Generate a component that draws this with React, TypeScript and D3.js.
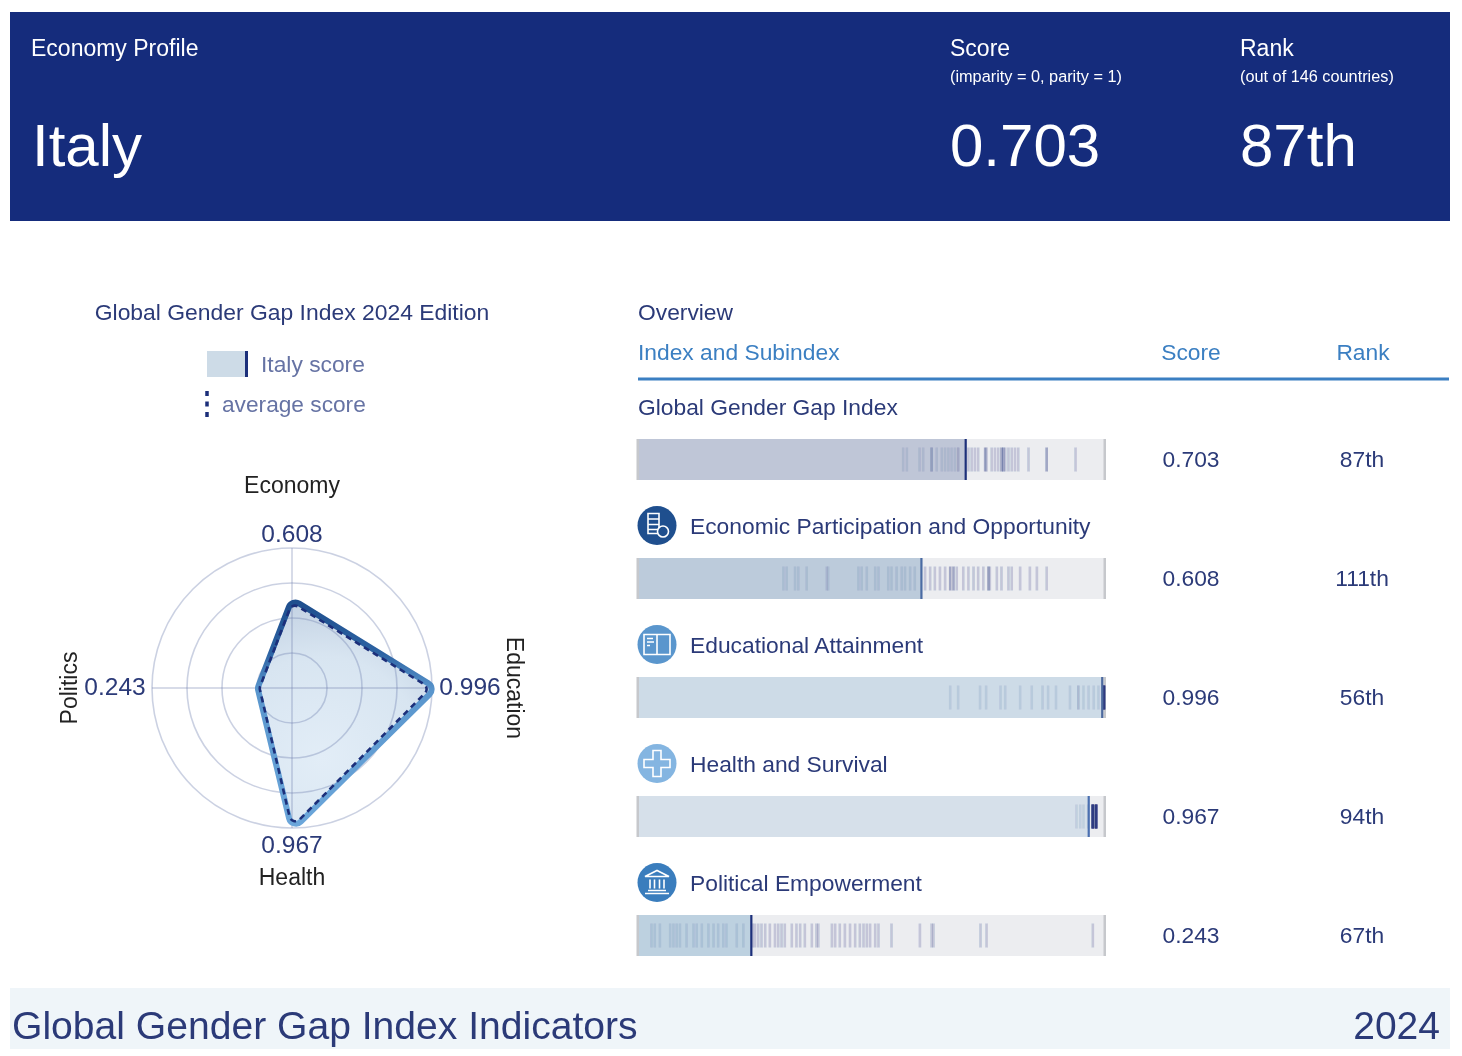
import React from "react";
import * as d3 from "d3";

const rowLabels = [
  "Global Gender Gap Index",
  "Economic Participation and Opportunity",
  "Educational Attainment",
  "Health and Survival",
  "Political Empowerment",
];
const rowScores = [0.703, 0.608, 0.996, 0.967, 0.243];
const rowRanks = ["87th", "111th", "56th", "94th", "67th"];

const globalStrip = [
  0.569, 0.577, 0.604, 0.612, 0.63, 0.63, 0.63, 0.641, 0.652, 0.659, 0.666, 0.673, 0.68, 0.687, 0.687, 0.709, 0.716,
  0.723, 0.73, 0.745, 0.745, 0.748, 0.759, 0.766, 0.773, 0.78, 0.78, 0.784, 0.784, 0.788, 0.795, 0.802, 0.809,
  0.816, 0.838, 0.877, 0.877, 0.939,
];
const economyStrip = [
  0.312, 0.319, 0.337, 0.344, 0.362, 0.405, 0.408, 0.473, 0.48, 0.491, 0.509, 0.516, 0.537, 0.544, 0.555, 0.566,
  0.573, 0.584, 0.594, 0.616, 0.627, 0.637, 0.648, 0.659, 0.67, 0.67, 0.677, 0.677, 0.684, 0.698, 0.709, 0.72,
  0.73, 0.741, 0.752, 0.752, 0.755, 0.77, 0.78, 0.795, 0.802, 0.82, 0.841, 0.856, 0.877,
];
const educationStrip = [
  0.67, 0.687, 0.734, 0.747, 0.778, 0.788, 0.82, 0.845, 0.868, 0.88, 0.897, 0.927, 0.945, 0.945, 0.956, 0.967,
  0.978, 0.988, 0.999, 0.999, 0.999, 1, 1, 1, 1, 1, 1, 1, 1,
];
const healthStrip = [
  0.941, 0.949, 0.956, 0.966, 0.976, 0.976, 0.976, 0.976, 0.976, 0.976, 0.976, 0.976, 0.976, 0.976, 0.976, 0.976,
  0.983, 0.983, 0.983, 0.983, 0.983, 0.983, 0.983, 0.983, 0.983, 0.983, 0.983, 0.983,
];
const politicsStrip = [
  0.029, 0.036, 0.047, 0.069, 0.076, 0.083, 0.09, 0.104, 0.119, 0.126, 0.137, 0.151, 0.162, 0.172, 0.183, 0.19,
  0.212, 0.226, 0.246, 0.251, 0.258, 0.265, 0.273, 0.283, 0.294, 0.301, 0.308, 0.315, 0.33, 0.34, 0.348, 0.358,
  0.373, 0.383, 0.387, 0.416, 0.423, 0.433, 0.444, 0.455, 0.466, 0.476, 0.484, 0.491, 0.498, 0.509, 0.516, 0.544,
  0.605, 0.63, 0.634, 0.735, 0.748, 0.976,
];
const strips = [globalStrip, economyStrip, educationStrip, healthStrip, politicsStrip];

const radarAxes = ["Economy", "Education", "Health", "Politics"];
const radarScores = [0.608, 0.996, 0.967, 0.243];
const radarAverages = [0.585, 0.96, 0.95, 0.23];
const radarRings = [0.25, 0.5, 0.75, 1];

const NAVY = "#1c2f7a";
const TEXT = "#2b3a78";
const BLUE = "#3b7fc2";
const FONT = "'Liberation Sans', Arial, sans-serif";

const barFills = ["#bfc6d7", "#bccbdb", "#cddbe7", "#d6e0ea", "#bdd1e0"];
const scoreTicks = ["#1c2f7a", "#4a6ba3", "#4d6a9e", "#4a6fb0", "#1c2f7a"];
const iconFills = ["#1f4f8e", "#5a96cd", "#84b5e1", "#3a7dbd"];

const x = d3.scaleLinear().domain([0, 1]).range([638, 1104]);
const r = d3.scaleLinear().domain([0, 1]).range([0, 140]);
const angle = (i: number) => (i * Math.PI) / 2;

// closed polygon through the four axes; corners are rounded and pushed out
// by the amount the rounding takes off, so the tip still lands on the value
function roundedRadar(values: number[], radius: number) {
  const base = values.map((v, i) => [r(v) * Math.sin(angle(i)), -r(v) * Math.cos(angle(i))]);
  const n = base.length;
  const pts = base.map((pt, i) => {
    const a = base[(i + n - 1) % n];
    const b = base[(i + 1) % n];
    const theta = Math.abs(
      Math.atan2(a[1] - pt[1], a[0] - pt[0]) - Math.atan2(b[1] - pt[1], b[0] - pt[0])
    );
    const inner = theta > Math.PI ? 2 * Math.PI - theta : theta;
    const push = radius * (1 / Math.sin(inner / 2) - 1);
    const len = Math.hypot(pt[0], pt[1]);
    return [pt[0] * (1 + push / len), pt[1] * (1 + push / len)];
  });
  const mid = (a: number[], b: number[]) => [(a[0] + b[0]) / 2, (a[1] + b[1]) / 2];
  const p = d3.path();
  const start = mid(pts[n - 1], pts[0]);
  p.moveTo(start[0], start[1]);
  pts.forEach((pt, i) => {
    const m = mid(pt, pts[(i + 1) % n]);
    p.arcTo(pt[0], pt[1], m[0], m[1], radius);
    p.lineTo(m[0], m[1]);
  });
  p.closePath();
  return p.toString();
}

const CX = 292;
const CY = 688;
const rowY = [439, 558, 677, 796, 915];
const BAR_H = 41;

function Icon({ index, cy }: { index: number; cy: number }) {
  const s = { fill: "none", stroke: "#fff", strokeWidth: 1.6 };
  return (
    <g transform={`translate(657,${cy})`}>
      <circle r={19.5} fill={iconFills[index]} />
      {index === 0 && (
        <g {...s}>
          <path d="M-9,-12H2V8H-9Z M-9,-6.5H2 M-9,-1H2 M-9,4H2" />
          <circle cx={6} cy={6} r={5.5} fill={iconFills[0]} />
        </g>
      )}
      {index === 1 && (
        <g {...s}>
          <path d="M-13,-10H13V10H-13Z M0,-10V10" />
          <path d="M-10,-6H-4 M-10,-2.5H-3 M-10,1H-7" />
        </g>
      )}
      {index === 2 && <path {...s} d="M-4,-13H4V-4H13V4H4V13H-4V4H-13V-4H-4Z" />}
      {index === 3 && (
        <g {...s}>
          <path d="M-12,-6L0,-12L12,-6Z" />
          <path d="M-12,11H12 M-9,8H9 M-7,-3V6 M-2.5,-3V6 M2.5,-3V6 M7,-3V6" />
        </g>
      )}
    </g>
  );
}

export default function App() {
  const outline = roundedRadar(radarScores, 7);
  const average = roundedRadar(radarAverages, 6);
  return (
    <svg
      width={1462}
      height={1056}
      viewBox="0 0 1462 1056"
      style={{ position: "absolute", left: 0, top: 0, display: "block", filter: "blur(0.35px)" }}
      fontFamily={FONT}
    >
      <defs>
        <radialGradient id="radarFill" gradientUnits="userSpaceOnUse" cx={30} cy={70} r={170}>
          <stop offset="0%" stopColor="#e2edf7" />
          <stop offset="60%" stopColor="#d8e5f1" />
          <stop offset="100%" stopColor="#bfcee0" />
        </radialGradient>
        <linearGradient id="radarStroke" gradientUnits="userSpaceOnUse" x1={0} y1={-85} x2={0} y2={135}>
          <stop offset="0%" stopColor="#1f4f8e" />
          <stop offset="22%" stopColor="#2c62a2" />
          <stop offset="40%" stopColor="#5a96cd" />
          <stop offset="100%" stopColor="#6ba6da" />
        </linearGradient>
        <filter id="soft" x="-2%" y="-10%" width="104%" height="120%">
          <feGaussianBlur stdDeviation="0.6" />
        </filter>
      </defs>

      {/* header band */}
      <rect x={10} y={12} width={1440} height={209} fill="#152c7c" />
      <g fill="#fff">
        <text x={31} y={56} fontSize={23}>Economy Profile</text>
        <text x={32} y={166} fontSize={60}>Italy</text>
        <text x={950} y={56} fontSize={23}>Score</text>
        <text x={950} y={81.5} fontSize={16.3}>(imparity = 0, parity = 1)</text>
        <text x={950} y={166} fontSize={60}>0.703</text>
        <text x={1240} y={56} fontSize={23}>Rank</text>
        <text x={1240} y={81.5} fontSize={16.3}>(out of 146 countries)</text>
        <text x={1240} y={166} fontSize={60}>87th</text>
      </g>

      {/* radar title and legend */}
      <text x={292} y={320} fontSize={22.9} fill={TEXT} textAnchor="middle">Global Gender Gap Index 2024 Edition</text>
      <rect x={207} y={351} width={39} height={26} fill="#cddbe7" />
      <rect x={245} y={351} width={3} height={26} fill={NAVY} />
      <text x={261} y={372} fontSize={22.8} fill="#6673a4">Italy score</text>
      <line x1={207} x2={207} y1={391} y2={418} stroke={NAVY} strokeWidth={3.5} strokeDasharray="5 5.5" />
      <text x={222} y={412} fontSize={22.7} fill="#6673a4">average score</text>

      {/* radar */}
      <g transform={`translate(${CX},${CY})`}>
        <path d={outline} fill="url(#radarFill)" />
        {radarRings.map((d) => (
          <circle key={d} r={r(d)} fill="none" stroke="#6f7fae" strokeOpacity={0.36} strokeWidth={1.6} />
        ))}
        <line x1={-r(1)} x2={r(1)} stroke="#6f7fae" strokeOpacity={0.28} strokeWidth={2} />
        <line y1={-r(1)} y2={r(1)} stroke="#6f7fae" strokeOpacity={0.28} strokeWidth={2} />
        <path d={outline} fill="none" stroke="url(#radarStroke)" strokeWidth={6} strokeLinejoin="round" />
        <path d={average} fill="none" stroke={NAVY} strokeWidth={2.6} strokeDasharray="6 4.5" strokeLinejoin="round" />
      </g>

      {/* radar labels */}
      <g fontSize={23} textAnchor="middle" fill="#222">
        <text x={292} y={493}>{radarAxes[0]}</text>
        <text x={292} y={884.5}>{radarAxes[2]}</text>
        <text transform="translate(507,688) rotate(90)">{radarAxes[1]}</text>
        <text transform="translate(77,688) rotate(-90)">{radarAxes[3]}</text>
      </g>
      <g fontSize={24.5} fill={TEXT} textAnchor="middle">
        <text x={292} y={542}>{radarScores[0].toFixed(3)}</text>
        <text x={292} y={853}>{radarScores[2].toFixed(3)}</text>
        <text x={470} y={695}>{radarScores[1].toFixed(3)}</text>
        <text x={115} y={695}>{radarScores[3].toFixed(3)}</text>
      </g>

      {/* table header */}
      <text x={638} y={320} fontSize={22.8} fill={TEXT}>Overview</text>
      <g fontSize={22.8} fill={BLUE}>
        <text x={638} y={359.5}>Index and Subindex</text>
        <text x={1191} y={359.5} textAnchor="middle">Score</text>
        <text x={1363} y={359.5} textAnchor="middle">Rank</text>
      </g>
      <line x1={638} x2={1449} y1={379} y2={379} stroke={BLUE} strokeWidth={3} />

      {/* rows */}
      {rowLabels.map((label, i) => (
        <g key={label}>
          {i > 0 && <Icon index={i - 1} cy={rowY[i] - 32.5} />}
          <text x={i === 0 ? 638 : 690} y={rowY[i] - 24} fontSize={22.8} fill={TEXT}>{label}</text>
          <rect x={637} y={rowY[i]} width={468} height={BAR_H} fill="#ecedf0" />
          <rect x={637} y={rowY[i]} width={x(rowScores[i]) - 637} height={BAR_H} fill={barFills[i]} />
          <rect x={636.5} y={rowY[i]} width={2.5} height={BAR_H} fill="#c6c8cc" />
          <rect x={1103.5} y={rowY[i]} width={2.5} height={BAR_H} fill="#c6c8cc" />
          <g filter="url(#soft)">
            {strips[i].map((v, j) => (
              <rect
                key={j}
                x={x(v) - 1.3}
                y={rowY[i] + 8.5}
                width={2.6}
                height={BAR_H - 17}
                fill={NAVY}
                fillOpacity={rowScores[i] > v ? 0.1 : 0.2}
              />
            ))}
          </g>
          <rect
            x={x(rowScores[i]) - 1}
            y={rowY[i]}
            width={2.2}
            height={BAR_H}
            fill={scoreTicks[i]}
          />
          <text x={1191} y={rowY[i] + 27.5} fontSize={22.8} fill={TEXT} textAnchor="middle">{rowScores[i].toFixed(3)}</text>
          <text x={1362} y={rowY[i] + 27.5} fontSize={22.8} fill={TEXT} textAnchor="middle">{rowRanks[i]}</text>
        </g>
      ))}

      {/* footer band */}
      <rect x={10} y={988} width={1440} height={61} fill="#eff5f9" />
      <text x={12} y={1039} fontSize={39.1} fill={TEXT}>Global Gender Gap Index Indicators</text>
      <text x={1440} y={1039} fontSize={39} fill={TEXT} textAnchor="end">2024</text>
    </svg>
  );
}
